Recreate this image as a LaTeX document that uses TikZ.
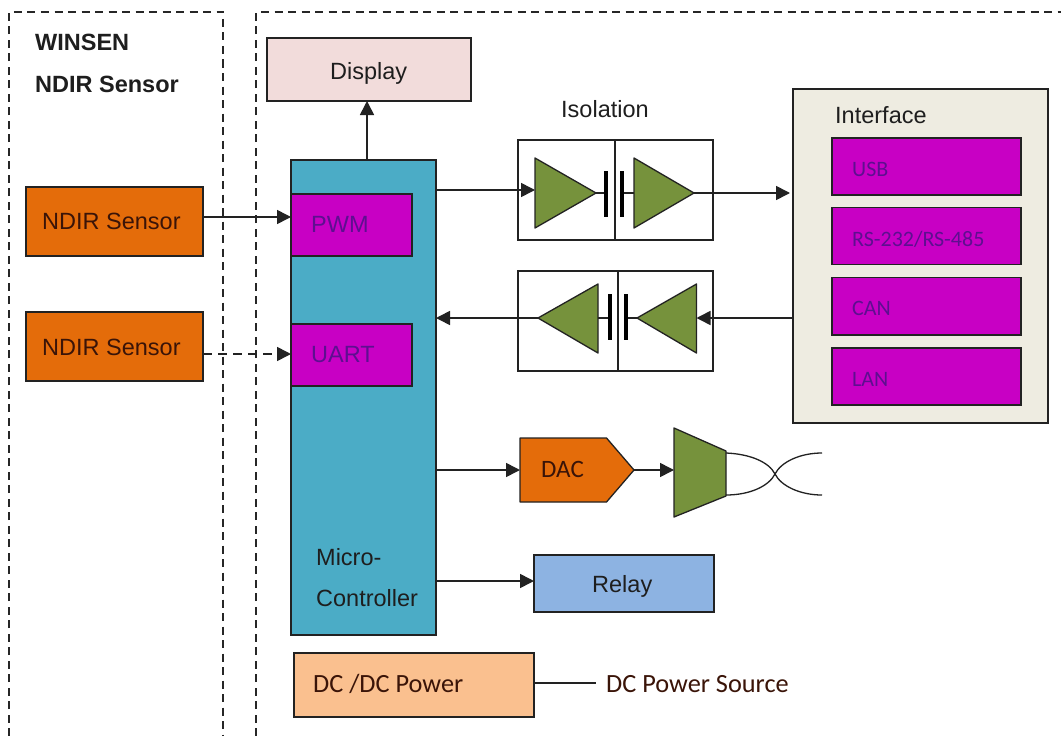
\documentclass[tikz,border=0pt]{standalone}
\usepackage{fontspec}
\setmainfont{Liberation Sans}
\newfontfamily\calib{Carlito}
\usetikzlibrary{arrows.meta}
\definecolor{dkline}{HTML}{222222}
\definecolor{cpink}{HTML}{F2DCDB}
\definecolor{cteal}{HTML}{4BACC6}
\definecolor{cmag}{HTML}{C800C4}
\definecolor{corange}{HTML}{E46C0A}
\definecolor{cgreen}{HTML}{76923C}
\definecolor{ccream}{HTML}{EEECE1}
\definecolor{cblue}{HTML}{8DB3E2}
\definecolor{cpeach}{HTML}{FAC08F}
\definecolor{tpurple}{HTML}{5E0F90}
\definecolor{tbrown}{HTML}{3A1408}
\definecolor{tdark}{HTML}{1E1E1E}
\tikzset{
  x=1pt,y=-1pt,
  blk/.style={draw=dkline,line width=1.2pt,inner sep=0pt,outer sep=0pt,anchor=north west},
  frame/.style={draw=black!85,line width=2pt,dash pattern=on 8pt off 5.5pt},
  conn/.style={draw=dkline,line width=1.6pt},
  arr/.style={conn,-{Triangle[length=14pt,width=14pt]}},
  wire/.style={draw=dkline,line width=1.3pt},
  plate/.style={draw=black,line width=4pt},
  tri/.style={draw=dkline,line width=1.3pt,fill=cgreen,line join=round},
  ar/.style={anchor=west,inner sep=0pt,text=tdark,font=\fontsize{23.5}{26}\selectfont},
  arb/.style={anchor=west,inner sep=0pt,text=tdark,font=\bfseries\fontsize{23.5}{26}\selectfont},
  cal/.style={anchor=west,inner sep=0pt,font=\calib\fontsize{26.3}{28}\selectfont},
  mag/.style={anchor=west,inner sep=0pt,text=tpurple,font=\calib\fontsize{22}{24}\selectfont},
}
\newcommand{\blkat}[6]{\node[blk,#6,minimum width={(#4-#2)*1pt},minimum height={(#5-#3)*1pt}] (#1) at (#2,#3) {};}
\begin{document}
\begin{tikzpicture}
\useasboundingbox (0,0) rectangle (1061,736);
\fill[white] (0,0) rectangle (1061,736);
% dashed frames
\coordinate (fa) at (9,736); \coordinate (fb) at (9,12); \coordinate (fc) at (223,12); \coordinate (fd) at (223,736);
\draw[frame] (fa) -- (fb) -- (fc) -- (fd);
\coordinate (ga) at (256,736); \coordinate (gb) at (256,12); \coordinate (gc) at (1061,12);
\draw[frame] (ga) -- (gb) -- (gc);
% blocks
\blkat{disp}{267}{38}{471}{101}{fill=cpink}
\blkat{mcu}{291}{160}{436}{635}{fill=cteal}
\blkat{pwm}{291}{194}{412}{256}{fill=cmag}
\blkat{uart}{291}{324}{412}{386}{fill=cmag}
\blkat{sa}{26}{187}{203}{256}{fill=corange}
\blkat{sb}{26}{312}{203}{381}{fill=corange}
\blkat{isoa}{518}{140}{713}{240}{fill=white}
\blkat{isob}{518}{271}{713}{371}{fill=white}
\blkat{intf}{793}{89}{1048}{423}{fill=ccream}
\blkat{usb}{832}{138}{1021}{195}{fill=cmag}
\blkat{rs}{832}{207.5}{1021}{264.5}{fill=cmag}
\blkat{can}{832}{277.5}{1021}{335}{fill=cmag}
\blkat{lan}{832}{348}{1021}{405}{fill=cmag}
\blkat{relay}{534}{555}{714}{612}{fill=cblue}
\blkat{dc}{294}{653}{534}{717}{fill=cpeach}
% isolation dividers
\coordinate (da) at (615,140); \coordinate (db) at (615,240);
\draw[wire] (da) -- (db);
\coordinate (dc1) at (618,271); \coordinate (dc2) at (618,371);
\draw[wire] (dc1) -- (dc2);
% upper isolation channel
\coordinate (t1a) at (535,158); \coordinate (t1b) at (535,228); \coordinate (t1c) at (596,193);
\coordinate (t2a) at (634,158); \coordinate (t2b) at (634,228); \coordinate (t2c) at (694,193);
\coordinate (p1a) at (605.5,171); \coordinate (p1b) at (605.5,217);
\coordinate (p2a) at (622,171); \coordinate (p2b) at (622,217);
\draw[wire] (t1c) -- (p1a |- t1c);
\draw[wire] (p2a |- t2c) -- (t2a |- t2c);
\draw[plate] (p1a) -- (p1b);
\draw[plate] (p2a) -- (p2b);
\draw[tri] (t1a) -- (t1c) -- (t1b) -- cycle;
\draw[tri] (t2a) -- (t2c) -- (t2b) -- cycle;
% lower isolation channel
\coordinate (t3a) at (598,284); \coordinate (t3b) at (598,353); \coordinate (t3c) at (538,318);
\coordinate (t4a) at (696.5,284); \coordinate (t4b) at (696.5,353); \coordinate (t4c) at (637,318);
\coordinate (p3a) at (610,294); \coordinate (p3b) at (610,340);
\coordinate (p4a) at (626,294); \coordinate (p4b) at (626,340);
\draw[wire] (t3a |- t3c) -- (p3a |- t3c);
\draw[wire] (p4a |- t4c) -- (t4c);
\draw[plate] (p3a) -- (p3b);
\draw[plate] (p4a) -- (p4b);
\draw[tri] (t3a) -- (t3c) -- (t3b) -- cycle;
\draw[tri] (t4a) -- (t4c) -- (t4b) -- cycle;
% DAC and driver
\coordinate (d1) at (520,438); \coordinate (d2) at (606.5,438); \coordinate (dtip) at (634,470); \coordinate (d3) at (606.5,502); \coordinate (d4) at (520,502); \coordinate (dw) at (520,470);
\draw[draw=dkline,line width=1.3pt,fill=corange,line join=round] (d1) -- (d2) -- (dtip) -- (d3) -- (d4) -- cycle;
\coordinate (a1) at (674,428); \coordinate (a2) at (726,451); \coordinate (a3) at (726,496); \coordinate (a4) at (674,517); \coordinate (aw) at (674,470);
\draw[tri] (a1) -- (a2) -- (a3) -- (a4) -- cycle;
\coordinate (cx) at (775,474); \coordinate (ct) at (822,453); \coordinate (cb) at (822,495);
\draw[wire] (a2 |- ct) .. controls (750,454) and (769,462) .. (cx) .. controls (769,486) and (750,495) .. (a3 |- cb);
\draw[wire] (ct) .. controls (800,453) and (781,462) .. (cx) .. controls (781,486) and (800,495) .. (cb);
% connectors
\coordinate (ya) at (0,217); \coordinate (yb) at (0,354); \coordinate (yc) at (0,190); \coordinate (yd) at (0,581);
\coordinate (xa) at (367,0); \coordinate (xi) at (790,0);
\draw[arr] (sa.east |- ya) -- (pwm.west |- ya);
\draw[arr,dash pattern=on 9pt off 6pt] (sb.east |- yb) -- (uart.west |- yb);
\draw[arr] (mcu.north -| xa) -- (disp.south -| xa);
\draw[arr] (mcu.east |- yc) -- (t1a |- yc);
\draw[arr] (t2c) -- (xi |- t2c);
\draw[arr] (intf.west |- t4c) -- (t4a |- t4c);
\draw[arr] (t3c) -- (mcu.east |- t3c);
\draw[arr] (mcu.east |- dw) -- (dw);
\draw[arr] (dtip) -- (aw);
\draw[arr] (mcu.east |- yd) -- (relay.west |- yd);
\coordinate (dcend) at (596,683);
\draw[wire] (dc.east |- dcend) -- (dcend);
% labels
\node[arb] (l1) at (35,42) {WINSEN};
\node[arb] (l2) at (35,84) {NDIR Sensor};
\node[ar] (l3) at (330,73) {Display};
\node[ar,text=tbrown] (l4) at (42,221) {NDIR Sensor};
\node[ar,text=tbrown] (l5) at (42,347) {NDIR Sensor};
\node[ar,text=tpurple] (l6) at (311,224.5) {PWM};
\node[ar,text=tpurple] (l7) at (311,355) {UART};
\node[ar] (l8) at (561,109) {Isolation};
\node[ar] (l9) at (835,115) {Interface};
\node[mag] (l10) at (852,169) {USB};
\node[mag] (l11) at (852,239) {RS-232/RS-485};
\node[mag] (l12) at (852,308) {CAN};
\node[mag] (l13) at (852,379) {LAN};
\node[cal,text=tbrown,font=\calib\fontsize{25}{28}\selectfont] (l14) at (541,469) {DAC};
\node[ar] (l15) at (592,586) {Relay};
\node[ar] (l16) at (316,557) {Micro-};
\node[ar] (l17) at (316,598) {Controller};
\node[cal,text=tbrown] (l18) at (313,684) {DC /DC Power};
\node[cal,text=tbrown] (l19) at (606,684) {DC Power Source};
\end{tikzpicture}
\end{document}
